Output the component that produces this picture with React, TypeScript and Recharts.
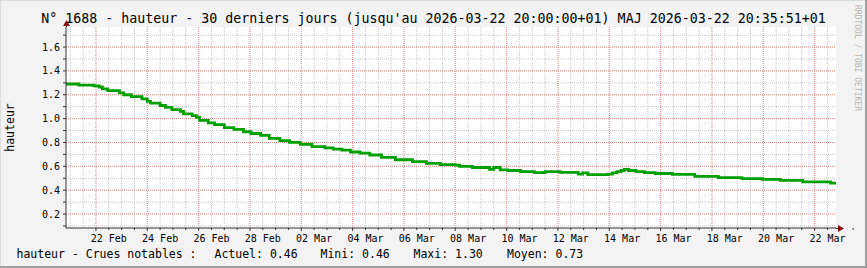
import { CartesianGrid, Line, LineChart, XAxis, YAxis } from "recharts"

const MONO = "'DejaVu Sans Mono', 'Liberation Mono', monospace"

// heures depuis le début de la fenêtre (2026-02-20 20:00)
const hours = [
  0, 12, 26, 31, 34, 39, 50, 54, 61, 71, 76, 79, 88, 93, 99, 107, 110, 118, 122, 125,
  133, 139, 148, 157, 166, 173, 182, 190, 200, 209, 219, 230, 242, 250, 258, 266, 275,
  284, 295, 308, 324, 337, 350, 364, 368, 380, 396, 400, 406, 413, 425, 438, 448, 462,
  479, 483, 488, 507, 511, 515, 519, 522, 526, 533, 541, 551, 567, 588, 610, 632, 651,
  668, 689, 715, 720,
]
const hauteur = [
  1.29, 1.28, 1.275, 1.265, 1.25, 1.235, 1.215, 1.2, 1.185, 1.165, 1.145, 1.13, 1.11,
  1.095, 1.075, 1.06, 1.04, 1.025, 1.01, 0.985, 0.965, 0.95, 0.925, 0.91, 0.89, 0.875,
  0.86, 0.835, 0.815, 0.8, 0.785, 0.765, 0.755, 0.745, 0.735, 0.72, 0.71, 0.695, 0.675,
  0.655, 0.64, 0.625, 0.615, 0.61, 0.6, 0.59, 0.575, 0.59, 0.57, 0.565, 0.555, 0.548,
  0.555, 0.55, 0.535, 0.545, 0.53, 0.535, 0.545, 0.555, 0.565, 0.575, 0.565, 0.555,
  0.548, 0.54, 0.532, 0.515, 0.505, 0.497, 0.49, 0.483, 0.47, 0.46, 0.46,
]

const tickHours = [40, 88, 136, 184, 232, 280, 328, 376, 424, 472, 520, 568, 616, 664, 712]
const tickLabels = [
  "22 Feb", "24 Feb", "26 Feb", "28 Feb", "02 Mar", "04 Mar", "06 Mar", "08 Mar",
  "10 Mar", "12 Mar", "14 Mar", "16 Mar", "18 Mar", "20 Mar", "22 Mar",
]
const yTicks = [
  0.1, 0.2, 0.3, 0.4, 0.5, 0.6, 0.7, 0.8, 0.9, 1.0, 1.1, 1.2, 1.3, 1.4, 1.5, 1.6, 1.7,
]
const yMajor = [0.2, 0.4, 0.6, 0.8, 1.0, 1.2, 1.4, 1.6]

const title =
  "N° 1688 - hauteur - 30 derniers jours (jusqu'au 2026-03-22 20:00:00+01) MAJ 2026-03-22 20:35:51+01"
const legendItems = [
  { x: 16.5, text: "hauteur - Crues notables :" },
  { x: 214.5, text: "Actuel: 0.46" },
  { x: 320.5, text: "Mini: 0.46" },
  { x: 413.5, text: "Maxi: 1.30" },
  { x: 507, text: "Moyen: 0.73" },
]

const data = hours.map((h, i) => ({ h, v: hauteur[i] }))

// grille: mineure toutes les 12 h, majeure tous les 2 jours à minuit
const minorX = Array.from({ length: 60 }, (_, i) => 4 + 12 * i)
const majorX = Array.from({ length: 15 }, (_, i) => 28 + 48 * i)

const PLOT_W = 770
const PX_PER_HOUR = PLOT_W / 720

function TimeTick(props: any) {
  const { x, y, payload } = props
  const idx = tickHours.indexOf(payload.value)
  const half = 12 * PX_PER_HOUR
  return (
    <g>
      {[0, 1, 2, 3].map((k) => (
        <line
          key={k}
          x1={x + (k - 1) * half}
          x2={x + (k - 1) * half}
          y1={y}
          y2={y + (k === 0 ? 3 : 2)}
          stroke="#333"
          strokeWidth={1}
        />
      ))}
      <text x={x} y={y + 14} textAnchor="middle" fontSize={10} fontFamily={MONO} fill="#000">
        {idx >= 0 ? tickLabels[idx] : ""}
      </text>
    </g>
  )
}

export default function App() {
  return (
    <div
      style={{
        position: "relative",
        width: 867,
        height: 268,
        background: "#f3f3f3",
        overflow: "hidden",
      }}
    >
      <style>{"body{margin:0}"}</style>
      <LineChart
        width={867}
        height={268}
        data={data}
        margin={{ top: 27, right: 31, left: 8, bottom: 20 }}
      >
        <CartesianGrid
          fill="#ffffff"
          stroke="#c8c8c8"
          strokeDasharray="1 1"
          verticalValues={minorX}
          horizontalValues={yTicks}
        />
        <CartesianGrid
          stroke="#ff5f5f"
          strokeOpacity={0.55}
          strokeDasharray="1 1"
          verticalValues={majorX}
          horizontalValues={yMajor}
        />
        <XAxis
          type="number"
          dataKey="h"
          domain={[0, 720]}
          ticks={tickHours}
          interval={0}
          allowDataOverflow
          height={20}
          tickLine={false}
          tickSize={0}
          tickMargin={0}
          axisLine={{ stroke: "#333" }}
          tick={<TimeTick />}
        />
        <YAxis
          type="number"
          domain={[0.083, 1.768]}
          ticks={yTicks}
          interval={0}
          allowDataOverflow
          width={58}
          tickSize={3}
          tickMargin={3}
          tickLine={{ stroke: "#333" }}
          axisLine={{ stroke: "#333" }}
          tick={{ fontSize: 10, fontFamily: MONO, fill: "#000" }}
          tickFormatter={(v: number) => (Math.round(v * 10) % 2 === 0 ? v.toFixed(1) : "")}
        />
        <Line
          type="stepAfter"
          dataKey="v"
          stroke="#00a000"
          strokeWidth={2.8}
          dot={false}
          activeDot={false}
          isAnimationActive={false}
        />
      </LineChart>
      <svg
        width={867}
        height={268}
        style={{ position: "absolute", left: 0, top: 0, pointerEvents: "none" }}
      >
        {/* bordure */}
        <rect x={0} y={0} width={867} height={1} fill="#dcdcdc" />
        <rect x={0} y={0} width={1} height={268} fill="#dcdcdc" />
        <rect x={865} y={0} width={2} height={268} fill="#9e9e9e" />
        <rect x={0} y={266} width={867} height={2} fill="#9e9e9e" />
        {/* flèches des axes */}
        <line x1={836} x2={840} y1={228.5} y2={228.5} stroke="#333" />
        <polygon points="838,225 844,228.5 838,232" fill="#8b1010" />
        <line x1={66.5} x2={66.5} y1={27} y2={23} stroke="#333" />
        <polygon points="63,26 66.5,20 70,26" fill="#8b1010" />
        <text x={433.5} y={23} textAnchor="middle" fontSize={13.3} fontFamily={MONO} fill="#000">
          {title}
        </text>
        <text
          transform="translate(14, 127.5) rotate(-90)"
          textAnchor="middle"
          fontSize={11.5}
          fontFamily={MONO}
          fill="#000"
        >
          hauteur
        </text>
        {legendItems.map((item) => (
          <text
            key={item.text}
            x={item.x}
            y={258}
            fontSize={11.5}
            fontFamily={MONO}
            fill="#000"
          >
            {item.text}
          </text>
        ))}
        <text
          transform="translate(855, 5) rotate(90)"
          fontSize={8}
          fontFamily={MONO}
          fill="#b4b4b4"
        >
          RRDTOOL / TOBI OETIKER
        </text>
      </svg>
    </div>
  )
}
